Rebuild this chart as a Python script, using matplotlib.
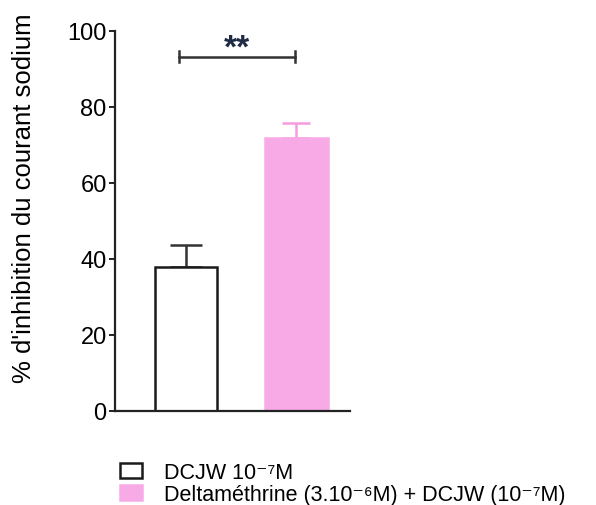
import matplotlib.pyplot as plt
import numpy as np

plt.rcParams['font.family'] = ['Liberation Sans', 'DejaVu Sans']

labels = ['DCJW 10⁻⁷M', 'Deltaméthrine (3.10⁻⁶M) + DCJW (10⁻⁷M)']
means = [37.9, 71.8]
sem = [5.8, 4.0]
face_colors = ['white', '#f7aae6']
edge_colors = ['#1a1a1a', '#f7aae6']
err_colors = ['#333333', '#f59de0']
caps = [11.5, 10]

fig = plt.figure(figsize=(5.96, 5.06), dpi=100)
ax = fig.add_axes([0.193, 0.186, 0.394, 0.751])

x = np.arange(len(means))
bars = []
for i in range(len(means)):
    ax.errorbar(x[i], means[i], yerr=[[0], [sem[i]]], fmt='none',
                ecolor=err_colors[i], elinewidth=1.8, capsize=caps[i], capthick=1.8, zorder=1)
    b = ax.bar(x[i], means[i], width=0.57, color=face_colors[i],
               edgecolor=edge_colors[i], linewidth=1.8, zorder=2, label=labels[i])
    bars.append(b)

# significance bracket
y_br = 93.2
ax.plot([-0.063, 0.986], [y_br, y_br], color='#333333', lw=1.8)
ax.plot([-0.063, -0.063], [y_br - 1.5, y_br + 1.5], color='#333333', lw=1.8)
ax.plot([0.986, 0.986], [y_br - 1.5, y_br + 1.5], color='#333333', lw=1.8)
ax.text(0.46, 95.6, '**', ha='center', va='center', fontsize=24,
        color='#1f2a44', fontweight='bold')

ax.set_xlim(-0.643, 1.484)
ax.set_ylim(0, 100)
ax.set_yticks([0, 20, 40, 60, 80, 100])
ax.set_xticks([])
ax.spines['top'].set_visible(False)
ax.spines['right'].set_visible(False)
ax.spines['left'].set_linewidth(1.6)
ax.spines['bottom'].set_linewidth(1.6)
ax.spines['left'].set_color('#222222')
ax.spines['bottom'].set_color('#222222')
ax.tick_params(axis='y', labelsize=17, length=4, width=1.4, pad=2, color='#222222')
ax.set_ylabel("% d'inhibition du courant sodium", fontsize=18.5)
ax.yaxis.set_label_coords(-0.335, 0.563)

fig.legend(handles=[bars[0], bars[1]], labels=labels, loc='upper left',
           bbox_to_anchor=(0.201, 0.085), frameon=False, fontsize=15.5,
           handlelength=1.05, handleheight=0.68, handletextpad=1.0,
           labelspacing=0.05, borderpad=0, borderaxespad=0)

fig.savefig('out.png', dpi=100)
